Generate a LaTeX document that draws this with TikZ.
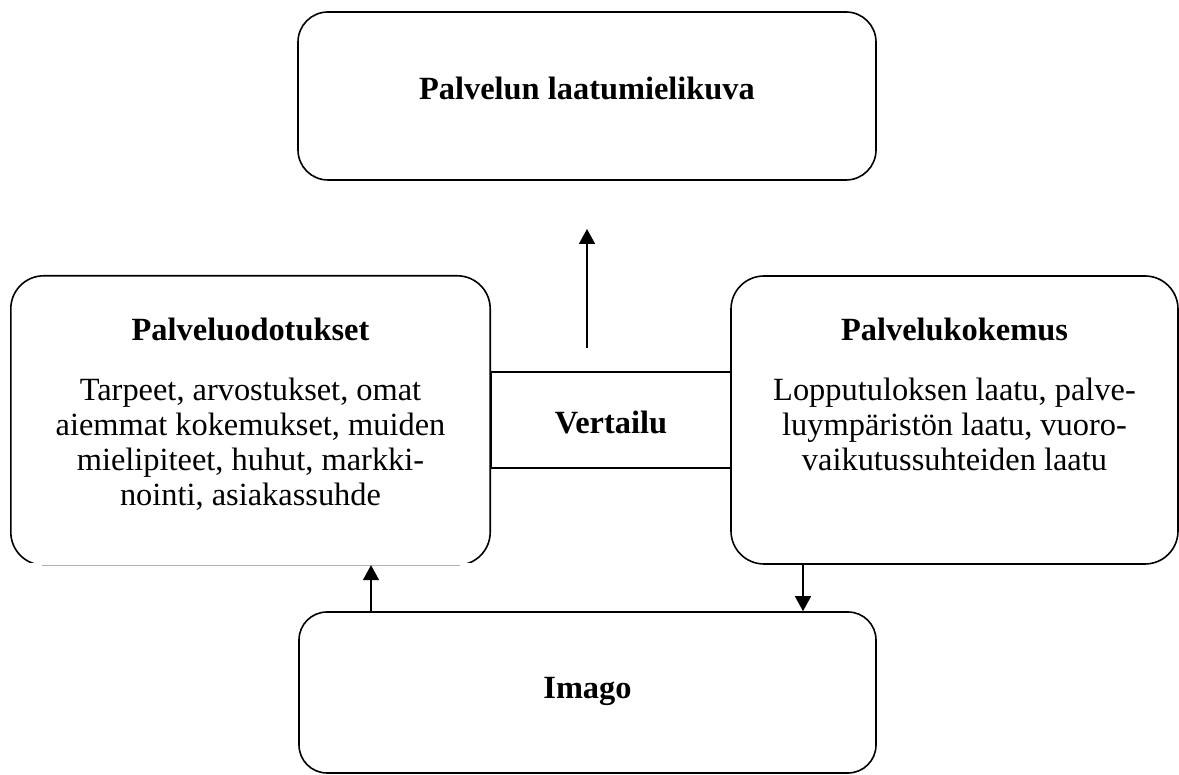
\documentclass[tikz,border=0pt]{standalone}
\usepackage{fontspec}
\setmainfont{Liberation Serif}
\usetikzlibrary{arrows.meta,calc}
\begin{document}
\begin{tikzpicture}[x=1pt,y=1pt,
  box/.style={draw, line width=1.6pt, rounded corners=30pt, inner sep=0pt},
  plainbox/.style={draw, line width=1.6pt, inner sep=0pt},
  conn/.style={line width=1.6pt, -{Triangle[length=15pt,width=16pt]}},
  txt/.style={font=\fontsize{32.4}{35}\selectfont, inner sep=0pt, outer sep=0pt, align=center},
  boldtxt/.style={font=\fontsize{32.4}{35}\selectfont\bfseries, inner sep=0pt, outer sep=0pt}]
\useasboundingbox (0,0) rectangle (1179,775);

% boxes
\node[box, minimum width=578pt, minimum height=168pt] (laatu) at (587,679) {};
\node[minimum width=479pt, minimum height=289pt, inner sep=0pt] (odot) at (250.5,354.5) {};
\begin{scope}
  \clip (0,212) rectangle (1179,775);
  \draw[line width=1.6pt, rounded corners=33pt] (odot.south west) rectangle (odot.north east);
\end{scope}
\draw[gray!60, line width=0.9pt] ($(odot.south west)+(31,0)$) -- ($(odot.south east)+(-30,0)$);
\node[box, rounded corners=33pt, minimum width=447pt, minimum height=288pt] (kok) at (954.5,355) {};
\node[box, rounded corners=28pt, minimum width=577pt, minimum height=161pt] (imago) at (587.5,82.5) {};
\node[plainbox, minimum width=240pt, minimum height=96pt] (vert) at (611,355) {};

% texts
\node[boldtxt, anchor=base] (laatutitle) at (587,675) {Palvelun laatumielikuva};
\node[boldtxt, anchor=base] (odottitle) at (250.5,434) {Palveluodotukset};
\node[txt, anchor=base] (odotbody) at (250.5,269) {Tarpeet, arvostukset, omat\\aiemmat kokemukset, muiden\\mielipiteet, huhut, markki-\\nointi, asiakassuhde};
\node[boldtxt, anchor=base] (koktitle) at (954.5,434) {Palvelukokemus};
\node[txt, anchor=base] (kokbody) at (954.5,304) {Lopputuloksen laatu, palve-\\luympäristön laatu, vuoro-\\vaikutussuhteiden laatu};
\node[boldtxt, anchor=base] (vertlabel) at (611,341) {Vertailu};
\node[boldtxt, anchor=base] (imagolabel) at (587.5,76) {Imago};

% connectors
\coordinate (upstart) at (587,427);
\coordinate (upend) at (587,546);
\draw[conn] (upstart) -- (upend);
\coordinate (lx) at (371,0);
\coordinate (rx) at (803,0);
\draw[conn] (lx |- imago.north) -- (lx |- odot.south);
\draw[conn] (rx |- kok.south) -- (rx |- imago.north);
\end{tikzpicture}
\end{document}
